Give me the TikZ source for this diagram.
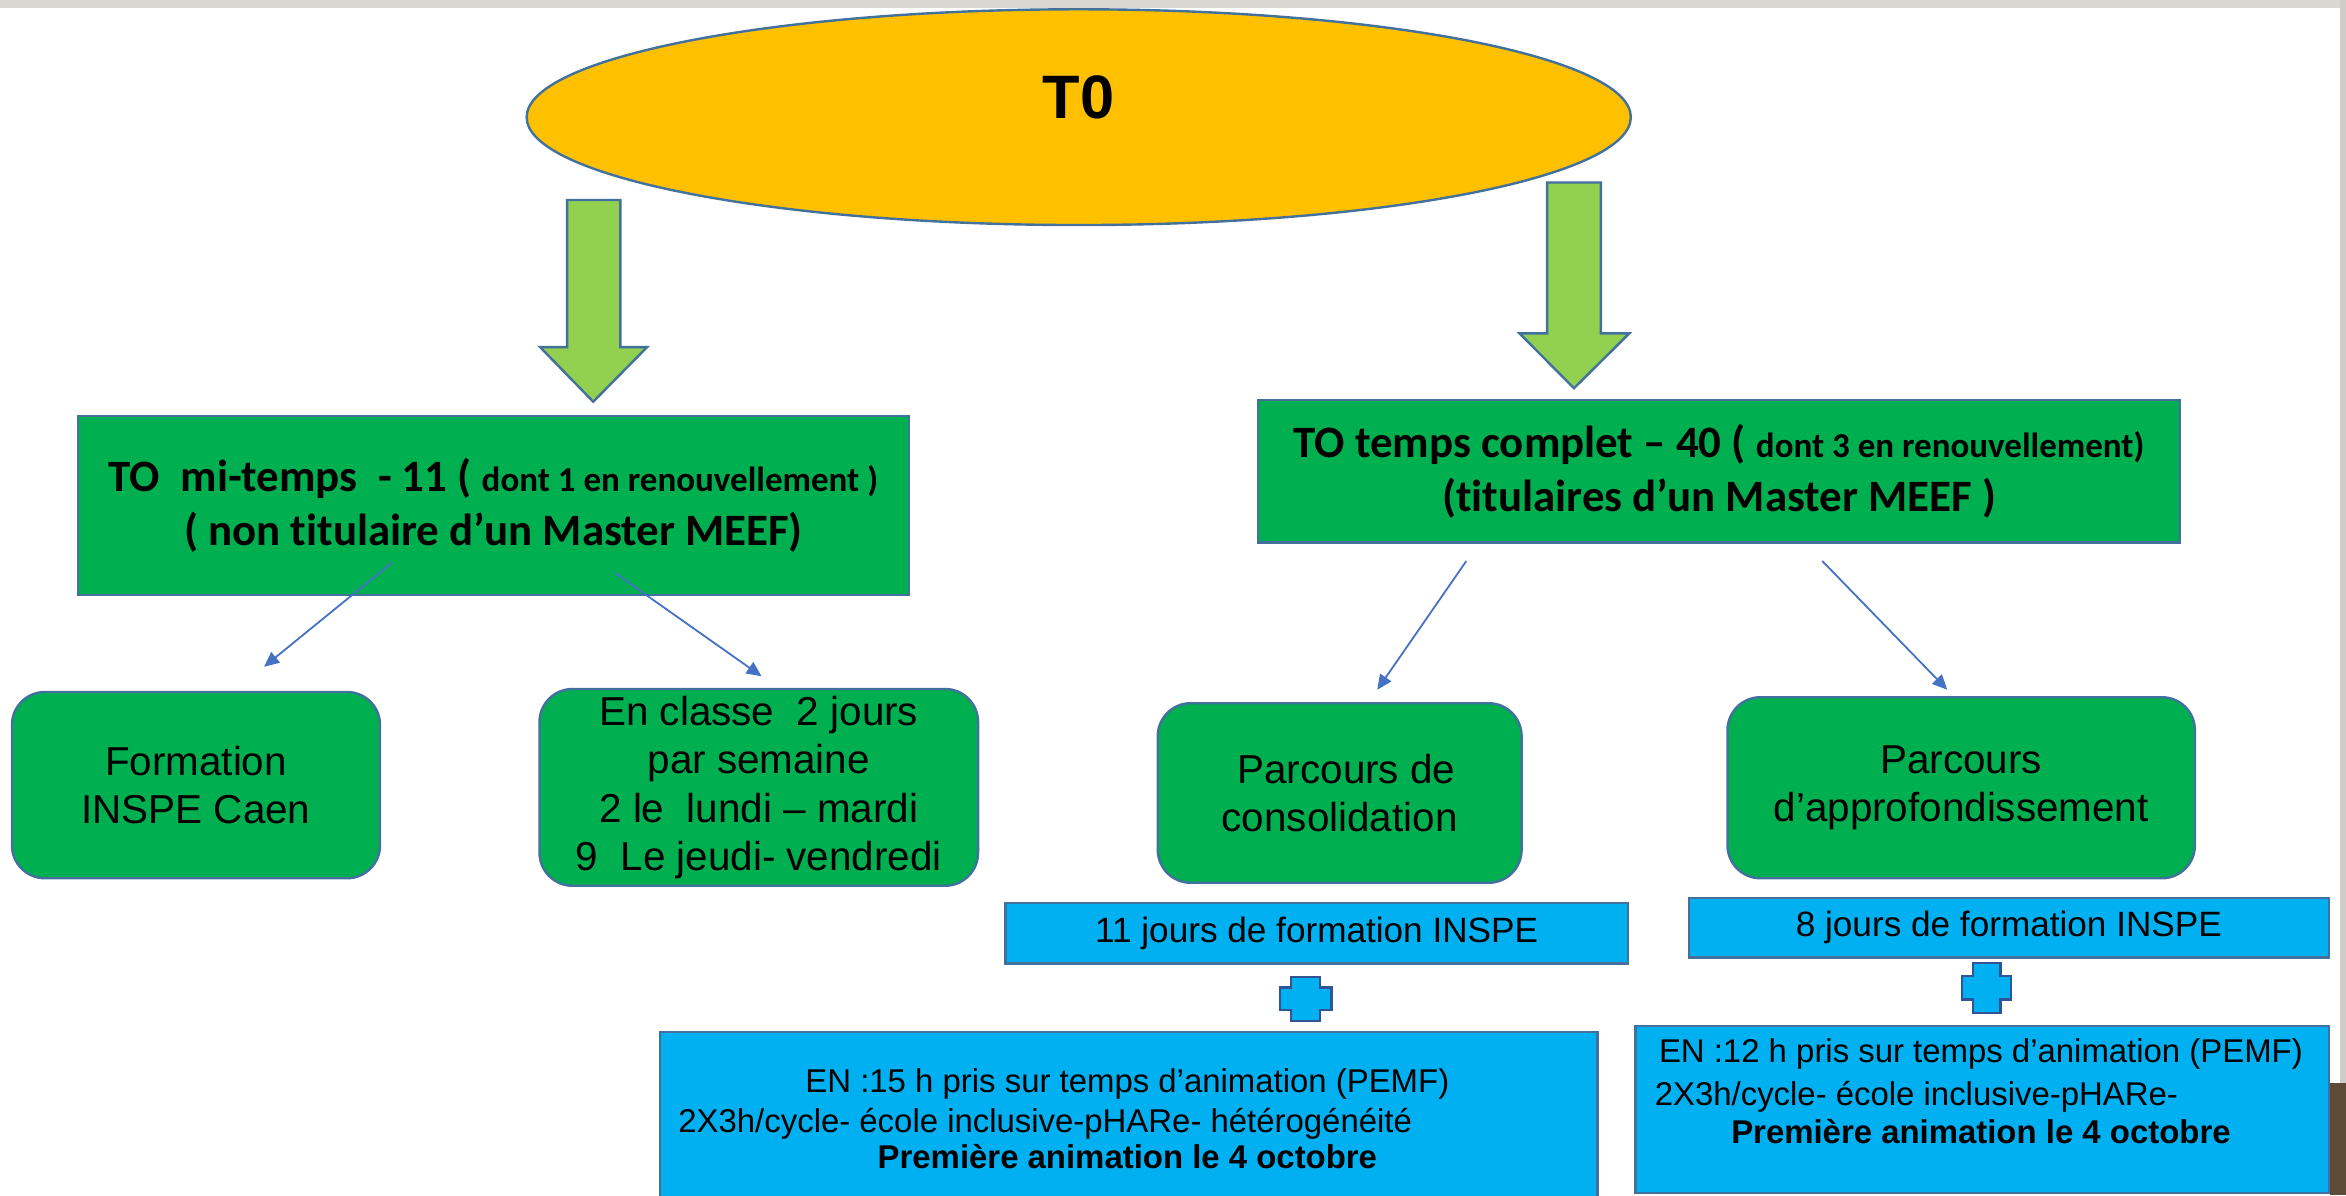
\documentclass[tikz,border=0pt]{standalone}
\usepackage{fontspec}
\setmainfont{Liberation Sans}
\newfontfamily\calfont[Ligatures=NoCommon]{Carlito}
\usetikzlibrary{arrows.meta,shapes.geometric}
\definecolor{yel}{HTML}{FFC000}
\definecolor{grn}{HTML}{00B050}
\definecolor{lgrn}{HTML}{92D050}
\definecolor{cyanbox}{HTML}{00B0F0}
\definecolor{outl}{HTML}{41719C}
\definecolor{plusoutl}{HTML}{2F5597}
\definecolor{conncol}{HTML}{4472C4}
\definecolor{bandgray}{HTML}{DAD7D2}
\definecolor{sidegray}{HTML}{CFCCC7}
\definecolor{brownish}{HTML}{5E4A36}
\tikzset{
  hdr/.style={draw=outl, line width=0.8pt, fill=grn, inner sep=0pt, align=center,
    font=\calfont\bfseries\fontsize{15}{18.2}\selectfont},
  rbox/.style={draw=outl, line width=0.8pt, fill=grn, rounded corners=11pt, inner sep=0pt,
    align=center, font=\fontsize{13.5}{16.2}\selectfont},
  bbox/.style={draw=outl, line width=0.8pt, fill=cyanbox, inner sep=0pt, align=center,
    font=\fontsize{11.75}{14}\selectfont},
  btxt/.style={anchor=base, inner sep=0pt, font=\fontsize{11}{13}\selectfont},
  btxtb/.style={anchor=base, inner sep=0pt, font=\bfseries\fontsize{11}{13}\selectfont},
  conn/.style={draw=conncol, line width=0.6pt, -{Triangle[length=5pt,width=4.5pt]}},
  blockarrow/.style={fill=lgrn, draw=outl, line width=0.8pt, line join=miter},
  plussign/.style={fill=cyanbox, draw=plusoutl, line width=0.8pt, line join=miter},
}
\begin{document}
\begin{tikzpicture}[x=0.5pt,y=-0.5pt]
\useasboundingbox (0,0) rectangle (1568,799);
\clip (0,0) rectangle (1568,799);
\fill[white] (0,0) rectangle (1568,799);
% frame remnants of the screenshot
\fill[bandgray] (0,0) rectangle (1568,5.6);
\fill[sidegray] (1564,0) rectangle (1568,799);
\fill[brownish] (1557,724) rectangle (1568,799);

% top ellipse
\node[ellipse, draw=outl, line width=0.8pt, fill=yel, minimum width=369pt, minimum height=72.1pt,
  inner sep=0pt, font=\bfseries\fontsize{20.5}{24}\selectfont, text height=14.7pt, text depth=13.6pt]
  (t0) at (721,78.3) {T0};

% big green arrows
\draw[blockarrow] (379,133.7) -- (414.6,133.7) -- (414.6,232) -- (432.5,232) -- (396.5,268.5)
  -- (361,232) -- (379,232) -- cycle;
\draw[blockarrow] (1034,122) -- (1070,122) -- (1070,222.8) -- (1089,222.8) -- (1052,259.5)
  -- (1015.6,222.8) -- (1034,222.8) -- cycle;

% header boxes
\node[hdr, minimum width=277.85pt, minimum height=59.85pt] (hl) at (329.85,337.85)
  {TO\ \ mi-temps\ \ - 11 ( {\fontsize{11.7}{18.2}\selectfont dont 1 en renouvellement )}\\( non titulaire d’un Master MEEF)};
\node[hdr, minimum width=308pt, minimum height=47.55pt] (hr) at (1149,314.95)
  {TO temps complet – 40 ( {\fontsize{11.7}{18.2}\selectfont dont 3 en renouvellement)}\\(titulaires d’un Master MEEF )};

% rounded boxes
\node[rbox, minimum width=123pt, minimum height=62.25pt] (form) at (131,524.75) {Formation\\INSPE Caen};
\node[rbox, minimum width=146.55pt, minimum height=65.75pt] (classe) at (507.15,526.25)
  {En classe\ \ 2 jours\\par semaine\\2 le\ \ lundi – mardi\\9\ \ Le jeudi- vendredi};
\node[rbox, minimum width=121.6pt, minimum height=60pt] (conso) at (895.4,530)
  {\hspace*{4.5pt}Parcours de\\consolidation};
\node[rbox, minimum width=156.2pt, minimum height=60.5pt] (appro) at (1310.8,526.5)
  {Parcours\\d’approfondissement};

% blue boxes
\node[bbox, minimum width=208pt, minimum height=20.15pt] (j11) at (880,623.85) {11 jours de formation INSPE};
\node[bbox, minimum width=213.85pt, minimum height=20pt] (j8) at (1342.65,620) {8 jours de formation INSPE};

% plus signs
\draw[plussign] (863,653) -- (882.4,653) -- (882.4,660) -- (890,660) -- (890,675) -- (882.4,675)
  -- (882.4,682.5) -- (863,682.5) -- (863,675) -- (855.6,675) -- (855.6,660) -- (863,660) -- cycle;
\draw[plussign] (1318.5,643.5) -- (1337,643.5) -- (1337,652.5) -- (1344,652.5) -- (1344,668)
  -- (1337,668) -- (1337,677) -- (1318.5,677) -- (1318.5,668) -- (1311.5,668) -- (1311.5,652.5)
  -- (1318.5,652.5) -- cycle;

% bottom boxes
\node[bbox, minimum width=313.35pt, minimum height=60.2pt] (enl) at (754.35,749.8) {};
\node[bbox, minimum width=231.75pt, minimum height=55.95pt] (enr) at (1324.75,741.55) {};
\node[btxt] (enl1) at (753.5,730) {EN :15 h pris sur temps d’animation (PEMF)};
\node[btxt, anchor=base west] (enl2) at (453,756.6) {2X3h/cycle- école inclusive-pHARe- hétérogénéité};
\node[btxtb] (enl3) at (753.5,781) {Première animation le 4 octobre};
\node[btxt] (enr1) at (1324,710) {EN :12 h pris sur temps d’animation (PEMF)};
\node[btxt, anchor=base west] (enr2) at (1105.6,738.6) {2X3h/cycle- école inclusive-pHARe-};
\node[btxtb] (enr3) at (1324,764.4) {Première animation le 4 octobre};

% thin connectors
\coordinate (a1s) at (262,376);   \coordinate (a1e) at (176.5,445.6);
\coordinate (a2s) at (410.8,382.8); \coordinate (a2e) at (509,452);
\coordinate (a3s) at (980,375);   \coordinate (a3e) at (920.5,461);
\coordinate (a4s) at (1218,375);  \coordinate (a4e) at (1301.5,461);
\draw[conn] (a1s) -- (a1e);
\draw[conn] (a2s) -- (a2e);
\draw[conn] (a3s) -- (a3e);
\draw[conn] (a4s) -- (a4e);
\end{tikzpicture}
\end{document}
